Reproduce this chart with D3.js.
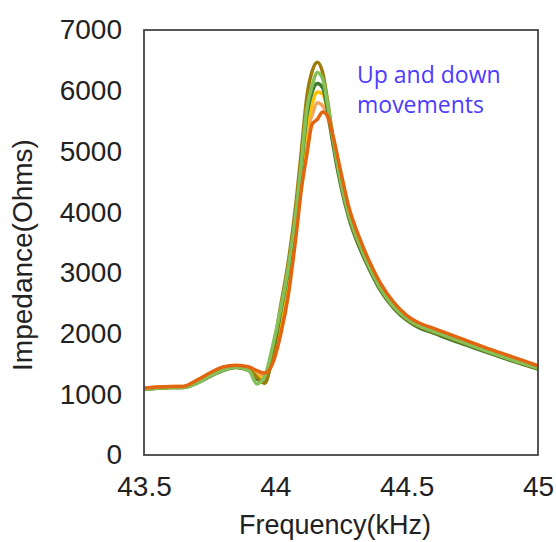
<!DOCTYPE html>
<html>
<head>
<meta charset="utf-8">
<script src="https://cdn.jsdelivr.net/npm/d3@7"></script>
<style>
  body { margin: 0; background: #fff; }
  text { font-family: "Liberation Sans", Arial, sans-serif; }
</style>
</head>
<body>
<div id="chart"></div>
<script>
// frequency grid (kHz)
const freq = [43.5, 43.55, 43.6, 43.65, 43.7, 43.75, 43.8, 43.85, 43.9, 43.93, 43.96, 43.99, 44.02, 44.05, 44.08, 44.1, 44.12, 44.14, 44.16, 44.18, 44.2, 44.22, 44.25, 44.28, 44.32, 44.36, 44.4, 44.45, 44.5, 44.55, 44.6, 44.7, 44.8, 44.9, 45.0];

// impedance traces (Ohms)
const lightOrange = [1100, 1120, 1125, 1130, 1220, 1340, 1440, 1470, 1430, 1340, 1300, 1560, 2150, 2900, 3850, 4600, 5300, 5600, 5800, 5750, 5550, 5150, 4530, 4000, 3520, 3120, 2790, 2490, 2280, 2150, 2070, 1910, 1750, 1600, 1460];
const yellow = [1090, 1110, 1115, 1120, 1200, 1320, 1420, 1460, 1420, 1300, 1260, 1620, 2250, 3000, 3950, 4700, 5400, 5780, 5980, 5950, 5650, 5200, 4520, 3980, 3500, 3100, 2770, 2470, 2260, 2130, 2050, 1890, 1735, 1585, 1440];
const darkGreen = [1080, 1100, 1110, 1110, 1180, 1290, 1390, 1440, 1390, 1250, 1200, 1650, 2350, 3050, 4000, 4800, 5600, 5980, 6120, 6050, 5650, 5100, 4420, 3900, 3420, 3040, 2710, 2420, 2220, 2090, 2010, 1850, 1700, 1550, 1415];
const olive = [1090, 1105, 1110, 1115, 1190, 1300, 1400, 1450, 1400, 1280, 1180, 1700, 2450, 3200, 4200, 5050, 5900, 6320, 6470, 6300, 5800, 5200, 4480, 3940, 3460, 3070, 2740, 2440, 2240, 2110, 2030, 1870, 1715, 1565, 1425];
const lightGreen = [1080, 1100, 1110, 1110, 1180, 1300, 1400, 1450, 1390, 1170, 1300, 1800, 2400, 3100, 4050, 4850, 5700, 6080, 6300, 6200, 5750, 5200, 4500, 3960, 3480, 3080, 2750, 2450, 2250, 2120, 2040, 1880, 1720, 1570, 1430];
const orange = [1100, 1120, 1130, 1130, 1230, 1350, 1450, 1480, 1450, 1390, 1350, 1510, 1980, 2650, 3650, 4400, 4950, 5450, 5530, 5650, 5580, 5250, 4650, 4080, 3580, 3170, 2830, 2520, 2300, 2170, 2090, 1930, 1770, 1620, 1470];

const xTicks = [43.5, 44, 44.5, 45];
const yTicks = [0, 1000, 2000, 3000, 4000, 5000, 6000, 7000];

const series = [
  { values: lightOrange, color: '#f2a35e' },
  { values: yellow, color: '#ffc000' },
  { values: darkGreen, color: '#3f7a2c' },
  { values: olive, color: '#9c7c0a' },
  { values: lightGreen, color: '#85c159' },
  { values: orange, color: '#e2660f' },
];

const W = 556, H = 542;
const margin = { top: 30, right: 18, bottom: 87, left: 144 },
  width = W - margin.left - margin.right,
  height = H - margin.top - margin.bottom;

const svg = d3
  .select('#chart')
  .append('svg')
  .attr('width', W)
  .attr('height', H)
  .append('g')
  .attr('transform', 'translate(' + margin.left + ',' + margin.top + ')');

const x = d3.scaleLinear().domain([43.5, 45]).range([0, width]);
const y = d3.scaleLinear().domain([0, 7000]).range([height, 0]);

// Axes (labels only, no tick marks)
const xAxis = svg
  .append('g')
  .attr('transform', `translate(0,${height})`)
  .call(d3.axisBottom(x).tickValues(xTicks).tickSize(0).tickPadding(21).tickFormat(d3.format('')));
xAxis.select('.domain').remove();
xAxis.selectAll('text').style('font-size', '28px').style('fill', '#222')
  .style('font-family', '"Liberation Sans", Arial, sans-serif');

const yAxis = svg
  .append('g')
  .call(d3.axisLeft(y).tickValues(yTicks).tickSize(0).tickPadding(22).tickFormat(d3.format('d')));
yAxis.select('.domain').remove();
yAxis.selectAll('text').style('font-size', '28px').style('fill', '#222')
  .style('font-family', '"Liberation Sans", Arial, sans-serif');

// Lines
const line = d3
  .line()
  .x((d, i) => x(freq[i]))
  .y((d) => y(d))
  .curve(d3.curveMonotoneX);

series.forEach((s) => {
  svg
    .append('path')
    .datum(s.values)
    .attr('fill', 'none')
    .attr('stroke', s.color)
    .attr('stroke-width', 3.5)
    .attr('stroke-linejoin', 'round')
    .attr('d', line);
});

// Plot frame
svg
  .append('rect')
  .attr('width', width)
  .attr('height', height)
  .attr('fill', 'none')
  .attr('stroke', '#444')
  .attr('stroke-width', 1.8);

// Annotation, two lines
svg
  .append('text')
  .attr('x', 213)
  .attr('y', 53)
  .style('font-family', '"Open Sans", "Noto Sans", sans-serif')
  .style('font-size', '23px')
  .style('fill', '#4d3bff')
  .text('Up and down');

svg
  .append('text')
  .attr('x', 213)
  .attr('y', 83)
  .style('font-family', '"Open Sans", "Noto Sans", sans-serif')
  .style('font-size', '23px')
  .style('fill', '#4d3bff')
  .text('movements');

// Axis titles
svg
  .append('text')
  .attr('x', width / 2 - 6)
  .attr('y', height + 79)
  .attr('text-anchor', 'middle')
  .style('font-size', '27px')
  .style('fill', '#222')
  .text('Frequency(kHz)');

svg
  .append('text')
  .attr('transform', 'rotate(-90)')
  .attr('x', -225)
  .attr('y', -112)
  .attr('text-anchor', 'middle')
  .style('font-size', '28px')
  .style('fill', '#222')
  .text('Impedance(Ohms)');
</script>
</body>
</html>
